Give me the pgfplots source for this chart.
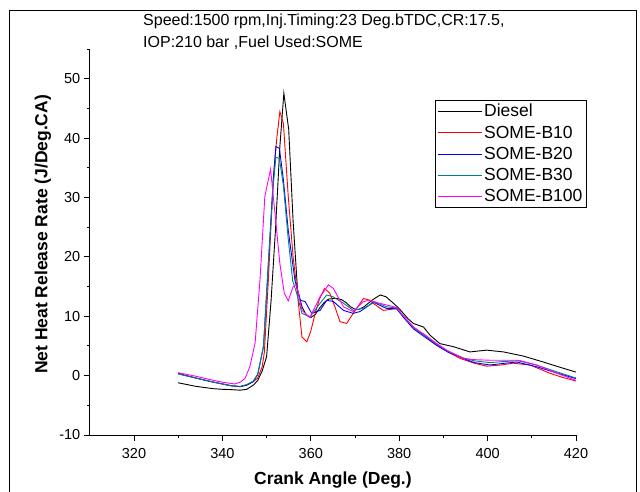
\documentclass[border=0pt]{standalone}
\usepackage{pgfplots}
\pgfplotsset{compat=1.18}
\usepackage{fontspec}
\setmainfont{Liberation Sans}
\definecolor{tealc}{RGB}{0,128,128}
\definecolor{magc}{RGB}{255,0,255}
\definecolor{redc}{RGB}{255,0,0}
\definecolor{bluec}{RGB}{0,0,255}
\pgfplotstableread{
x y
330 -1.2
332 -1.5
334 -1.8
336 -2.0
338 -2.2
340 -2.3
342 -2.35
344 -2.45
345.5 -2.3
347 -1.6
348 -0.8
349 0.8
350 3.2
351 12.5
352 24.5
353 38.6
353.9 47.6
355 41.5
356 26
357 14.5
358 11.6
359 10.2
360 9.8
361 10.3
362 11.4
363 12.3
364 12.9
365 13.0
366 13.0
367 12.8
368 12.3
369 11.6
370 11.2
371 11.2
372 11.6
374 12.8
375.7 13.6
377 13.3
378.7 12.2
380 11.3
382 9.6
383.2 8.8
385.5 8.2
387 6.8
389.2 5.4
392.2 4.9
396 4.0
399.8 4.3
403.6 4.0
408.1 3.3
412.6 2.3
416 1.5
420 0.6
}\diesel
\pgfplotstableread{
x y
330 0.4
334 -0.4
338 -1.1
342 -1.7
344 -1.85
345.5 -1.6
347 -1.0
348 -0.4
349 1.5
349.5 4
350.4 16.1
351.5 33.0
352.3 40
353 44.5
353.8 42.5
354.9 30.2
356 20
356.8 15.0
358 6.5
359.1 5.7
360 7.5
361 10.5
362 13
363.1 14.7
364.3 13.9
365.5 11.5
366.6 9.1
368.1 8.8
369.6 10.5
371.9 13.0
373.4 12.7
374.1 12.2
376.4 11.0
379.4 11.3
381 10
383.2 8.2
386 6.6
388.5 5.1
391 4
393.8 2.9
397 2.1
399.8 1.6
403 1.8
405.8 2.1
409.6 1.8
414.1 0.4
417 -0.3
420 -0.9
}\bten
\pgfplotstableread{
x y
330 0.3
334 -0.4
338 -1.1
342 -1.7
344 -1.85
345.5 -1.6
347 -1.0
348 0.2
349.3 4.9
350.4 18.9
351.5 33.0
352.1 38.6
352.9 38.3
353.8 33
354.9 24.5
356.4 16.1
357.6 12.7
358.7 12.5
360.2 10.5
362.1 11.0
363.6 12.7
365.1 12.5
367.4 11.0
369.6 10.5
371.1 10.8
372.5 11.5
374.1 12.4
377.2 11.3
379.4 11.3
381 9.8
383.2 7.9
386 6.4
388.5 5.1
391 4
394.5 2.9
397 2.2
400.5 1.8
404 2.1
406.6 2.3
411.1 1.5
415 0.6
420 -0.5
}\btwenty
\pgfplotstableread{
x y
330 0.3
334 -0.4
338 -1.1
342 -1.7
344 -1.8
345.5 -1.5
347 -0.9
348 0.3
349.3 5
350.4 19
351.5 32
352.1 36.8
352.9 36.6
353.8 32
354.9 23
355.9 16
356.8 13.9
358 10.5
359.8 9.9
362.1 12.2
363.6 13.6
365 13.3
367.4 12.2
369.6 11.0
372 11.4
374.5 12.4
377.2 11.6
379.4 11.4
381 10
383.2 8.1
386 6.6
388.5 5.3
391 4.1
394.5 3.0
397 2.5
400.5 2.2
404 2.4
407 2.5
411 1.8
415 0.8
420 -0.4
}\bthirty
\pgfplotstableread{
x y
330 0.5
334 -0.1
338 -0.8
340 -1.1
342.8 -1.4
344 -1.1
345.1 -0.5
346.2 1.5
347.4 5.5
348.5 16.1
349.6 30.2
350.9 34.8
351.9 27.3
353 18.9
354 13.9
354.9 12.6
356 15.0
356.8 15.2
358 11.0
359.8 9.8
362.1 13.3
364 15.3
365.1 14.7
367.4 11.6
369.6 10.8
371.9 12.5
373.4 12.7
375 12.3
377.2 11.9
379.4 11.5
381 10
383.2 8.2
386 6.8
388.5 5.4
391 4.2
394.5 2.9
397 2.7
400.5 2.6
404 2.6
407 2.6
411.1 1.8
415 0.6
420 -0.8
}\bhundred
\begin{document}
\begin{tikzpicture}[x=1pt,y=1pt]
\useasboundingbox (0,0) rectangle (640,491);
\draw[line width=0.8pt] (9,-5) rectangle (636,481);
\node[anchor=base west, inner sep=0pt, font=\fontsize{16}{19}\selectfont] at (143,465) {Speed:1500 rpm,Inj.Timing:23 Deg.bTDC,CR:17.5,};
\node[anchor=base west, inner sep=0pt, font=\fontsize{16}{19}\selectfont] at (143,443) {IOP:210 bar ,Fuel Used:SOME};
\begin{axis}[
  at={(89.8pt,56pt)}, anchor=south west,
  scale only axis, width=486.2pt, height=385.7pt,
  xmin=310, xmax=420, ymin=-10, ymax=55,
  axis x line*=bottom, axis y line*=left,
  xtick={320,340,...,420}, ytick={-10,0,...,50},
  minor xtick={330,350,...,410}, minor ytick={-5,5,...,55},
  xtick pos=lower, ytick pos=left,
  tick align=outside,
  major tick length=6pt, minor tick length=3pt,
  every tick/.style={black, line width=1pt},
  axis line style={line width=1pt},
  /pgf/number format/assume math mode=true,
  ticklabel style={font=\fontsize{14.5}{17}\selectfont},
  xticklabel style={yshift=-4pt},
  xlabel={\textbf{Crank Angle (Deg.)}},
  ylabel={\textbf{Net Heat Release Rate (J/Deg.CA)}},
  label style={font=\fontsize{17.5}{20}\selectfont},
  xlabel style={at={(axis description cs:0.5,-0.1167)}, anchor=center},
  ylabel style={at={(axis description cs:-0.0963,0.52)}, anchor=center},
  legend style={at={(0.71,0.8686)}, anchor=north west, draw=black, line width=0.6pt,
    font=\fontsize{17.5}{19}\selectfont, inner sep=2pt, row sep=3.5pt},
  legend cell align=left,
  legend image code/.code={\draw[#1] (0pt,0pt) -- (44pt,0pt);},
  every axis plot/.append style={line width=0.9pt},
]
\addplot[black] table {\diesel};
\addlegendentry{Diesel}
\addplot[redc] table {\bten};
\addlegendentry{SOME-B10}
\addplot[bluec] table {\btwenty};
\addlegendentry{SOME-B20}
\addplot[tealc] table {\bthirty};
\addlegendentry{SOME-B30}
\addplot[magc] table {\bhundred};
\addlegendentry{SOME-B100}
\end{axis}
\end{tikzpicture}
\end{document}
